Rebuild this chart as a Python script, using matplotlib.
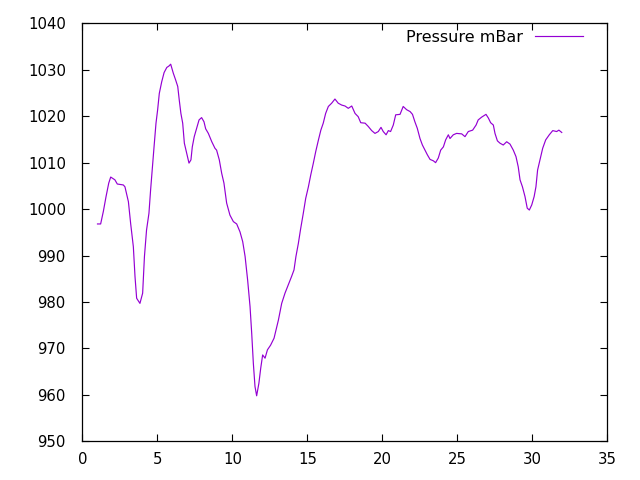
import matplotlib
matplotlib.use("Agg")
import matplotlib.pyplot as plt

# Pressure trace (day, mBar)
days = [1.0, 1.21, 1.39, 1.57, 1.75, 1.88, 2.16, 2.32, 2.72, 2.83,
        3.06, 3.21, 3.39, 3.50, 3.61, 3.83, 4.01, 4.13, 4.27, 4.43,
        4.54, 4.66, 4.77, 4.90, 5.01, 5.12, 5.28, 5.44, 5.62, 5.76,
        5.88, 6.05, 6.21, 6.35, 6.45, 6.56, 6.68, 6.79, 6.95, 7.10,
        7.23, 7.32, 7.45, 7.61, 7.77, 7.94, 8.10, 8.21, 8.39, 8.62,
        8.83, 8.94, 9.12, 9.28, 9.43, 9.61, 9.83, 10.06, 10.28, 10.50,
        10.68, 10.84, 11.01, 11.17, 11.28, 11.39, 11.50, 11.61, 11.76, 11.88,
        12.01, 12.17, 12.33, 12.54, 12.77, 13.06, 13.28, 13.50, 13.72, 13.94,
        14.10, 14.23, 14.39, 14.54, 14.72, 14.88, 15.06, 15.22, 15.39, 15.55,
        15.73, 15.89, 16.05, 16.21, 16.39, 16.61, 16.83, 17.05, 17.28, 17.50,
        17.72, 17.95, 18.17, 18.38, 18.55, 18.84, 19.05, 19.28, 19.50, 19.72,
        19.90, 20.05, 20.24, 20.39, 20.54, 20.72, 20.88, 21.17, 21.38, 21.61,
        21.84, 22.00, 22.16, 22.32, 22.50, 22.66, 22.83, 22.99, 23.17, 23.39,
        23.54, 23.72, 23.88, 24.06, 24.21, 24.39, 24.50, 24.72, 24.94, 25.28,
        25.50, 25.72, 26.01, 26.24, 26.38, 26.61, 26.90, 27.06, 27.21, 27.39,
        27.50, 27.66, 27.83, 28.05, 28.28, 28.50, 28.72, 28.90, 29.05, 29.17,
        29.33, 29.50, 29.65, 29.79, 29.95, 30.11, 30.23, 30.34, 30.50, 30.68,
        30.88, 31.12, 31.35, 31.61, 31.76, 31.95]
pressure = [996.8, 996.8, 999.5, 1002.7, 1005.6, 1006.9, 1006.3, 1005.4, 1005.2, 1004.8,
            1001.6, 996.9, 991.9, 985.5, 980.8, 979.7, 981.9, 989.8, 995.5, 999.1,
            1004.1, 1009.1, 1013.4, 1018.5, 1021.4, 1024.9, 1027.4, 1029.4, 1030.5, 1030.8,
            1031.2, 1029.3, 1027.8, 1026.4, 1023.5, 1020.6, 1018.5, 1014.2, 1012.0, 1009.9,
            1010.6, 1013.4, 1015.6, 1017.4, 1019.2, 1019.7, 1018.8, 1017.3, 1016.3, 1014.5,
            1013.1, 1012.7, 1010.6, 1007.7, 1005.6, 1001.3, 998.7, 997.3, 996.8, 995.1,
            993.0, 989.8, 984.7, 979.0, 973.3, 966.8, 961.8, 959.8, 962.5, 965.7,
            968.6, 967.9, 969.7, 970.7, 972.2, 976.1, 979.7, 981.9, 983.7, 985.5,
            986.9, 989.8, 992.6, 995.7, 999.1, 1002.3, 1004.8, 1007.4, 1009.9, 1012.4,
            1014.9, 1017.0, 1018.5, 1020.6, 1022.1, 1022.8, 1023.7, 1022.8, 1022.4, 1022.2,
            1021.7, 1022.2, 1020.6, 1019.9, 1018.6, 1018.5, 1017.8, 1016.9, 1016.3, 1016.7,
            1017.6, 1016.7, 1016.0, 1016.9, 1016.7, 1018.1, 1020.3, 1020.4, 1022.1, 1021.4,
            1021.0, 1020.4, 1018.8, 1017.4, 1015.2, 1013.8, 1012.7, 1011.7, 1010.7, 1010.4,
            1010.0, 1011.0, 1012.7, 1013.4, 1014.9, 1016.0, 1015.2, 1016.0, 1016.3, 1016.2,
            1015.6, 1016.7, 1017.0, 1018.1, 1019.2, 1019.8, 1020.4, 1019.6, 1018.6, 1018.1,
            1016.3, 1014.7, 1014.2, 1013.8, 1014.5, 1014.0, 1012.7, 1011.3, 1009.1, 1006.3,
            1004.8, 1002.7, 1000.2, 999.8, 1000.9, 1002.7, 1004.8, 1008.4, 1010.6, 1013.1,
            1014.9, 1016.0, 1016.9, 1016.7, 1017.0, 1016.5]

xticks = [0, 5, 10, 15, 20, 25, 30, 35]
yticks = [950, 960, 970, 980, 990, 1000, 1010, 1020, 1030, 1040]

plt.rcParams['font.family'] = ['DejaVu Sans']
plt.rcParams['font.size'] = 10.7

fig = plt.figure(figsize=(6.4, 4.8), dpi=100)
ax = fig.add_axes([0.1289, 0.0806, 0.8203, 0.8708])

ax.plot(days, pressure, color='#9400D3', linewidth=0.85, label='Pressure mBar')

ax.set_xlim(0, 35)
ax.set_ylim(950, 1040)
ax.set_xticks(xticks)
ax.set_yticks(yticks)
ax.tick_params(direction='in', length=5, width=0.8, top=True, right=True, colors='black')
ax.tick_params(axis='y', pad=12)
ax.tick_params(axis='x', pad=8)
for s in ax.spines.values():
    s.set_linewidth(0.9)

ax.legend(loc='upper right', bbox_to_anchor=(0.954, 0.985), frameon=False,
          markerfirst=False, handlelength=3.0, handletextpad=0.75,
          borderpad=0, borderaxespad=0, fontsize=11.5)

fig.savefig('out.png', dpi=100)
